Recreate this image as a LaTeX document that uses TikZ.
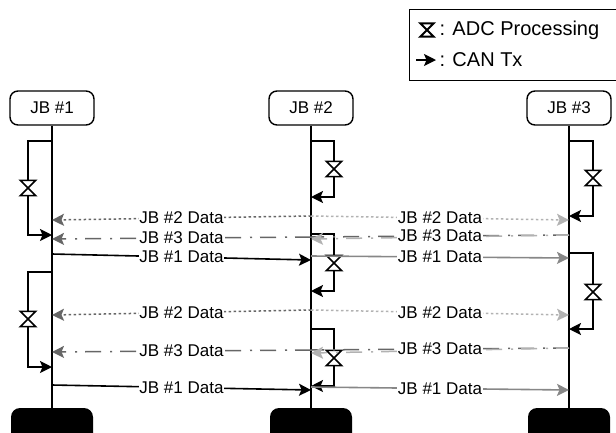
\documentclass[tikz,border=0pt]{standalone}
\usepackage{fontspec}
\setmainfont{Liberation Sans}
\usetikzlibrary{arrows.meta}
\definecolor{darkgr}{gray}{0.4}
\definecolor{midgr}{gray}{0.53}
\definecolor{lightgr}{gray}{0.7}
\tikzset{
  jbbox/.style={draw,line width=1.4pt,rounded corners=8pt,minimum width=84pt,minimum height=34pt,inner sep=0pt},
  jbfoot/.style={fill=black,rounded corners=9pt,minimum width=82pt,minimum height=36pt,inner sep=0pt},
  tip/.style={-{Stealth[length=12pt,width=12pt,inset=2.5pt]}},
  adcglass/.style={minimum width=15pt,minimum height=15pt,inner sep=0pt,
    append after command={\pgfextra{\draw[fill=white,line width=#1] (\tikzlastnode.north west)--(\tikzlastnode.north east)--(\tikzlastnode.south west)--(\tikzlastnode.south east)--cycle;}}},
  adcglass/.default=1.5pt,
  looparrow/.style={tip,line width=1.5pt},
  dataname/.style={fill=white,text=black,inner sep=0.6pt},
  dotdark/.style={tip,line width=1.5pt,darkgr,dash pattern=on 2.5pt off 2.5pt},
  dotlight/.style={tip,line width=1.5pt,lightgr,dash pattern=on 2.5pt off 2.5pt},
  chaindark/.style={tip,line width=1.5pt,darkgr,dash pattern=on 16pt off 8pt on 2pt off 9pt},
  chainplain/.style={line width=1.5pt,darkgr,dash pattern=on 16pt off 8pt on 2pt off 9pt},
  chainlight/.style={tip,line width=1.5pt,lightgr,dash pattern=on 16pt off 8pt on 2pt off 9pt,dash phase=3pt},
  solidblack/.style={tip,line width=1.6pt,black},
  solidgray/.style={tip,line width=1.6pt,midgr},
}
\begin{document}
\begin{tikzpicture}[x=1pt,y=-1pt,font=\fontsize{17}{17}\selectfont]
\useasboundingbox (0,0) rectangle (616,432);
\clip (0,0) rectangle (616,432);
\foreach \i/\x in {1/52,2/311,3/569} {
  \node[jbbox] (jb\i) at (\x,108) {JB \#\i};
  \node[jbfoot] (foot\i) at (\x,426) {};
  \draw[line width=1.7pt] (jb\i)--(foot\i);
}
\foreach \i/\lx/\x/\ya/\ym/\yb in {1/52/28/141/188/235,2/52/28/272/319/367,3/311/334/141/169/197,4/311/334/234/263/291,5/311/334/329/358/386,6/569/593/141/178/216,7/569/593/253/292/329} {
  \coordinate (ls\i) at (\lx,\ya);
  \coordinate (le\i) at (\lx,\yb);
  \node[adcglass] (adc\i) at (\x,\ym) {};
  \draw[line width=1.5pt] (ls\i) -| (adc\i.north);
  \draw[looparrow] (adc\i.south) |- (le\i);
}
\foreach \i/\xa/\ya/\xb/\yb/\t/\sty in {a/311/216/52/220/2/dotdark,b/311/216/569/220/2/dotlight,k/52/254/311/260/1/solidblack,l/311/256/569/258/1/solidgray,e/311/310/52/315/2/dotdark,f/311/310/569/315/2/dotlight,i/52/385/311/390/1/solidblack,j/311/387/569/390/1/solidgray} {
  \coordinate (ds\i) at (\xa,\ya);
  \coordinate (de\i) at (\xb,\yb);
  \draw[\sty] (ds\i) -- node[dataname] (dn\i) {JB \#\t{} Data} (de\i);
}
\foreach \i/\ya/\ym/\yl/\ye in {p/235/237/239/239,q/348/350/353/352} {
  \coordinate (cs\i) at (569,\ya);
  \coordinate (cm\i) at (311,\ym);
  \coordinate (cl\i) at (311,\yl);
  \coordinate (ce\i) at (52,\ye);
  \draw[chainplain] (cs\i) -- (cm\i);
  \draw[chainlight] (cs\i) -- (cl\i);
  \path (cs\i) -- node[dataname] (cnr\i) {JB \#3 Data} (cm\i);
  \draw[chaindark] (cm\i) -- node[dataname] (cnl\i) {JB \#3 Data} (ce\i);
}
\node[draw,line width=1.2pt,minimum width=209pt,minimum height=71pt,anchor=north west] (legend) at (409,9) {};
\node[adcglass=2pt,minimum width=13pt,minimum height=13pt] (legadc) at (427,30) {};
\node[anchor=west,font=\fontsize{20}{20}\selectfont] (legadct) at (436,30) {: ADC Processing};
\node[anchor=west,font=\fontsize{20}{20}\selectfont] (legcant) at (436,60) {: CAN Tx};
\coordinate (legs) at (416,60);
\draw[tip,line width=1.5pt] (legs) -- (legcant.west);
\end{tikzpicture}
\end{document}
